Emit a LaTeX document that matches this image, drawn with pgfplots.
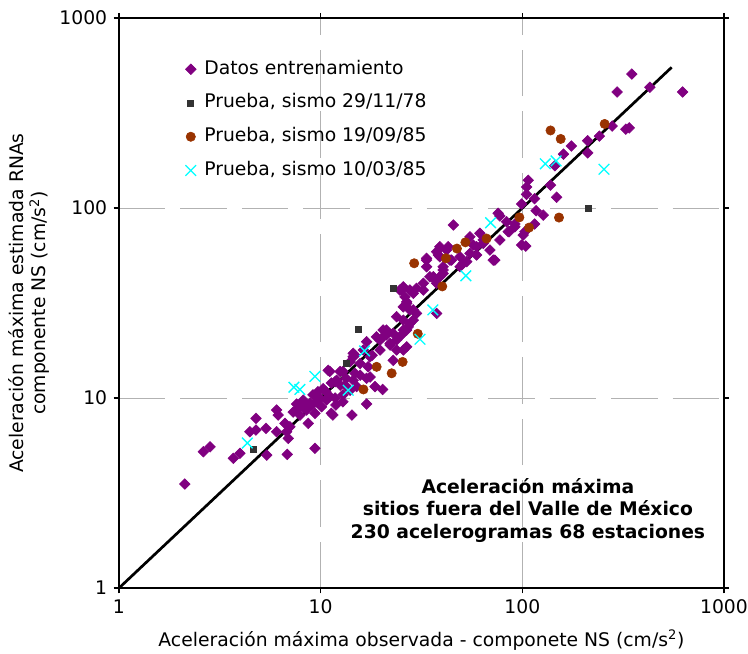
\documentclass[border=0pt]{standalone}
\usepackage{pgfplots}
\pgfplotsset{compat=1.18}
\usepackage{fontspec}
\setmainfont{DejaVu Sans}
\definecolor{purp}{RGB}{128,0,128}
\definecolor{brn}{RGB}{153,51,0}
\definecolor{dgray}{RGB}{51,51,51}
\definecolor{cyn}{RGB}{0,255,255}
\definecolor{gridg}{RGB}{178,178,178}
\begin{document}
\fontsize{12.5pt}{15pt}\selectfont
\begin{tikzpicture}
\begin{axis}[
  xmode=log, ymode=log,
  scale only axis, width=403.3pt, height=380pt,
  xmin=1, xmax=1000, ymin=1, ymax=1000,
  xtick={1,10,100,1000}, ytick={1,10,100,1000},
  xticklabels={1,10,100,1000}, yticklabels={1,10,100,1000},
  xminorticks=false, yminorticks=false,
  tick align=outside, major tick length=3.5pt,
  tick style={black, line width=0.8pt},
  axis line style={line width=1pt},
  grid=major,
  major grid style={gridg, line width=0.6pt, dash pattern=on 31pt off 10pt},
  xlabel={Aceleración máxima observada - componete NS (cm/s\textsuperscript{2})},
  ylabel={Aceleración máxima estimada RNAs\\componente NS (cm/s\textsuperscript{2})},
  xlabel style={at={([yshift=-34.7pt]rel axis cs:0.5,0)}, anchor=center},
  ylabel style={at={([xshift=-60pt]rel axis cs:0,0.5)}, anchor=center, align=center},
  legend image code/.code={\draw[#1] plot coordinates {(0cm,0cm)};},
  legend cell align=left,
  legend style={draw=none, fill=none, at={(rel axis cs:0.102,0.935)}, anchor=north west,
    row sep=8pt, column sep=4pt, nodes={inner sep=1.5pt, text height=9pt, text depth=2.5pt}},
]
% Datos entrenamiento
\addplot[only marks, mark=square*, mark size=2.5pt, mark options={rotate=45, purp, draw=purp, fill=purp}] coordinates {
(2.12,3.53) (2.62,5.22) (2.83,5.54) (3.69,4.82) (3.98,5.12) (4.46,6.65) (4.78,6.79) (4.78,7.82)
(5.36,6.93) (5.40,5.01) (6.05,8.65) (6.16,8.14) (6.05,6.65) (6.65,7.36) (7.04,7.06) (6.78,6.65)
(6.91,6.14) (6.83,5.05) (7.60,8.65) (7.90,8.14) (8.20,9.00) (7.60,9.30) (7.31,8.44) (8.68,7.36)
(9.37,5.44) (8.52,8.65) (8.85,9.38) (8.20,9.76) (9.55,9.56) (9.92,9.96) (10.1,9.00) (9.37,8.31)
(11.1,10.2) (11.3,8.31) (10.3,11.2) (11.3,12.0) (12.5,11.7) (12.9,10.4) (12.9,9.56) (11.5,8.14)
(9.16,10.4) (10.6,10.8) (11.9,9.19) (9.70,10.8) (10.7,9.76) (11.8,10.0) (9.06,9.19)
(14.3,8.14) (16.9,9.30) (16.9,12.7) (17.2,14.6) (14.5,12.4) (15.1,11.5) (12.5,13.8) (11.1,13.8)
(14.0,15.5) (14.8,16.8) (16.9,19.8) (18.9,21.0) (21.2,21.5) (23.8,26.8) (22.1,19.0) (19.7,17.9)
(20.3,11.1) (15.7,13.2) (13.4,12.7) (18.0,16.8) (18.6,11.5) (10.9,14.0) (11.8,12.2) (12.9,13.8)
(14.5,17.2) (14.8,13.5) (13.2,11.7) (14.0,11.0) (16.3,17.9) (17.6,16.5) (17.6,12.9)
(20.4,21.0) (22.1,19.4) (23.8,17.9) (25.7,17.9) (26.7,22.8) (28.8,25.7) (29.9,27.9) (26.7,31.5)
(20.4,22.8) (19.7,20.2) (22.9,15.8) (25.7,38.5) (27.7,37.0) (29.9,37.8) (32.3,40.2) (33.5,53.2)
(37.6,27.9) (40.5,47.2) (39.0,55.4) (34.8,43.5) (39.0,43.5) (24.7,37.0) (28.8,35.6) (36.2,43.5)
(28.8,29.1) (27.7,24.7) (25.7,22.8) (23.8,20.2) (26.7,18.6) (12.0,12.4) (14.5,16.5) (15.7,15.2)
(33.5,49.1) (39.0,62.6) (42.1,60.1) (43.8,53.2) (50.9,51.2) (55.0,57.8) (59.3,62.6) (64.0,67.9)
(69.1,60.1) (71.7,53.2) (55.0,70.6) (61.6,73.6) (42.9,62.6) (57.1,63.9) (49.1,55.4) (44.6,53.2)
(49.1,49.1) (53.0,52.2) (38.3,56.6) (40.5,49.1) (40.5,45.3) (36.2,42.7) (37.6,40.2) (25.2,37.0)
(32.3,37.0) (26.2,34.1) (26.7,32.1) (25.7,30.2) (27.7,29.1) (25.7,25.7) (27.2,23.7) (21.2,22.8)
(22.9,21.9) (25.2,21.5) (64.0,65.2) (73.1,53.2) (77.4,67.9) (59.3,56.6) (37.6,58.9)
(99.2,63.9) (86.1,75.1) (91.9,79.7) (75.9,93.8) (83.6,84.7) (103,75.1) (45.5,81.4) (33.5,54.4)
(349,507) (295,408) (429,432) (623,408) (279,270) (339,264) (326,260) (241,239) (211,226)
(175,212) (211,195) (160,192) (145,167) (107,140) (105,129) (138,132) (105,118) (115,112)
(148,114) (99.2,105) (117,96.8) (127,91.8) (77.4,90.8) (91.9,82.4) (85.1,75.1) (115,82.4)
(101,72.1) (104,63.1)
};
\addlegendentry{Datos entrenamiento}
% Prueba 29/11/78
\addplot[only marks, mark=square*, mark size=2pt, mark options={dgray, draw=dgray, fill=dgray}] coordinates {
(4.63,5.37) (13.35,15.2) (15.4,23.0) (22.9,37.9) (212,100)
};
\addlegendentry{Prueba, sismo 29/11/78}
% Prueba 19/09/85
\addplot[only marks, mark=*, mark size=3.1pt, mark options={brn, draw=brn, fill=brn}] coordinates {
(16.3,11.1) (18.95,14.6) (22.5,13.5) (25.5,15.5) (30.3,21.8) (29.1,51.2) (40.1,38.7) (41.8,54.4)
(47.4,61.2) (52.2,66.0) (66.5,69.1) (96.7,89.3) (108,78.9) (152,89.1) (138,256) (155,231) (256,277)
};
\addlegendentry{Prueba, sismo 19/09/85}
% Prueba 10/03/85
\addplot[only marks, mark=x, mark size=5pt, mark options={cyn, line width=0.9pt}] coordinates {
(4.33,5.80) (7.37,11.4) (7.89,11.1) (9.37,13.0) (13.7,11.0) (16.5,17.7) (31.1,20.4) (36.0,29.1)
(52.5,44.0) (69.6,83.7) (130,171) (147,177) (254,160)
};
\addlegendentry{Prueba, sismo 10/03/85}
% linea 1:1
\addplot[black, line width=1.8pt, forget plot] coordinates {(1,1) (550,550)};
\node[align=center, font=\bfseries, anchor=center] at (axis cs:106.6,2.57)
  {Aceleración máxima\\sitios fuera del Valle de México\\230 acelerogramas 68 estaciones};
\coordinate (sw) at (rel axis cs:0,0);
\coordinate (ne) at (rel axis cs:1,1);
\end{axis}
\pgfresetboundingbox
\path ([shift={(-79.3pt,-43.3pt)}]sw) rectangle ([shift={(16pt,12pt)}]ne);
\end{tikzpicture}
\end{document}
